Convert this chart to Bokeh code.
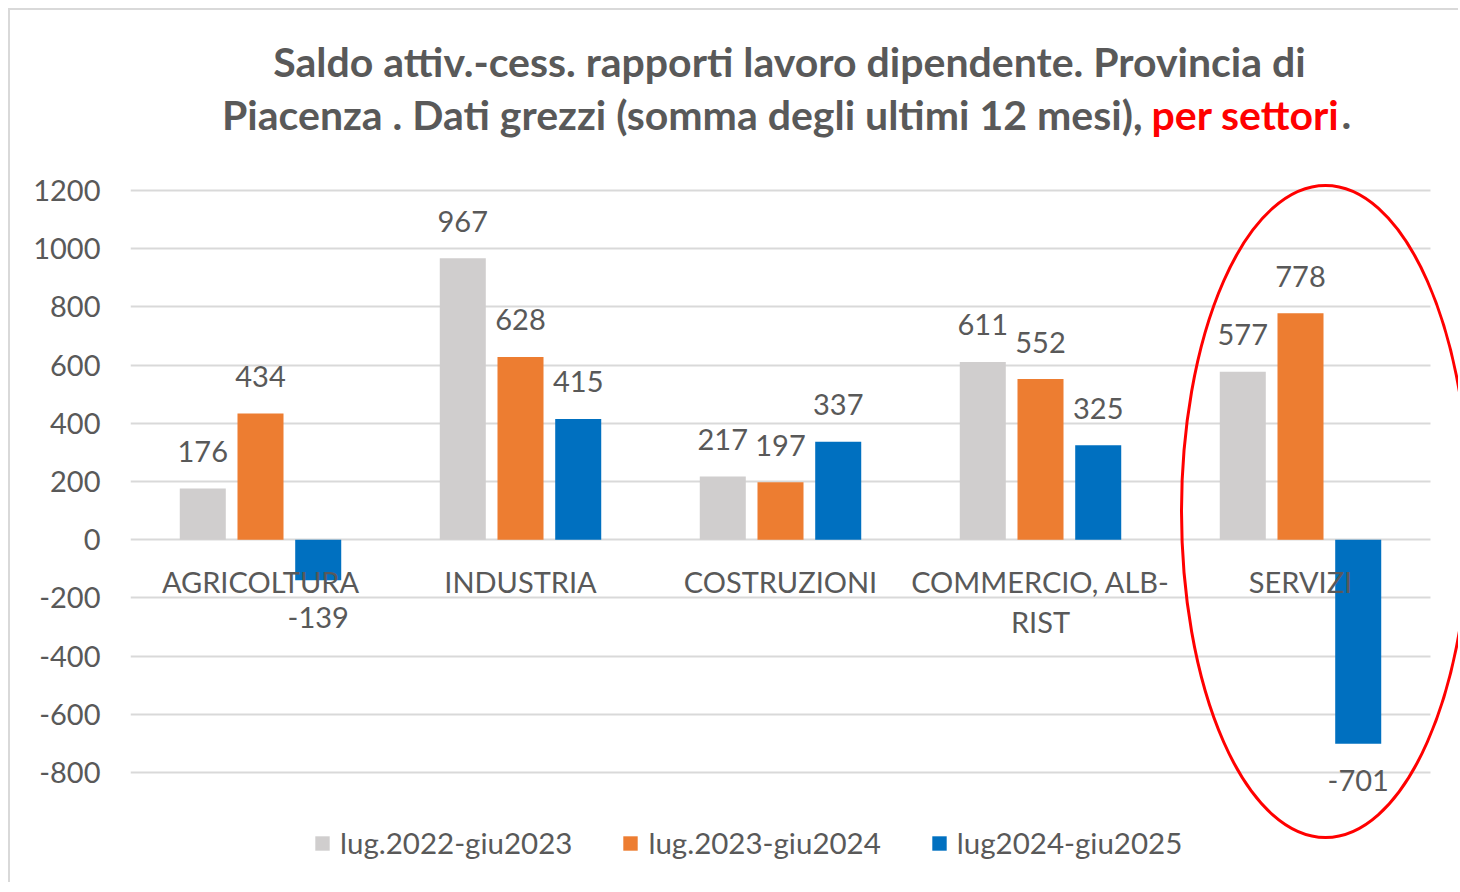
from bokeh.plotting import figure
from bokeh.models import (ColumnDataSource, Range1d, FixedTicker, Label, Legend,
                          LegendItem, BoxAnnotation)
from bokeh.embed import file_html
from bokeh.resources import INLINE
from bokeh.core.properties import value

# ---------------- data ----------------
categories = ["AGRICOLTURA", "INDUSTRIA", "COSTRUZIONI", "COMMERCIO, ALB-\nRIST", "SERVIZI"]
series_names = ["lug.2022-giu2023", "lug.2023-giu2024", "lug2024-giu2025"]
values_2022_2023 = [176, 967, 217, 611, 577]
values_2023_2024 = [434, 628, 197, 552, 778]
values_2024_2025 = [-139, 415, 337, 325, -701]
y_ticks = [-800, -600, -400, -200, 0, 200, 400, 600, 800, 1000, 1200]
title_line1 = "Saldo attiv.-cess. rapporti lavoro dipendente. Provincia di"
title_line2a = "Piacenza . Dati grezzi (somma degli ultimi 12 mesi),"
title_line2b = "per settori"
title_line2c = "."

# ---------------- style ----------------
FONT = "Lato"
TXT = "#595959"
GRID = "#d9d9d9"
colors = ["#d0cece", "#ed7d31", "#0070c0"]
offsets = [-0.222, 0.0, 0.222]
BAR_W = 0.177
NUM_SIZE = "29px"

# page-pixel helpers (layout only)
X0_PX, PX_PER_CAT = 130.0, 260.0
Y0_PX, PX_PER_UNIT = 539.2, 0.291
def px2x(px):
    return (px - X0_PX) / PX_PER_CAT - 0.5
def py2y(py):
    return (Y0_PX - py) / PX_PER_UNIT

W, H = 1450, 874
p = figure(width=W, height=H, output_backend="svg", toolbar_location=None,
           x_range=Range1d(px2x(130), px2x(1460)),
           y_range=Range1d(py2y(884), py2y(10)),
           x_axis_location=None,
           min_border_left=120, min_border_right=0, min_border_top=0, min_border_bottom=0)
p.styles = {"margin-left": "8px", "margin-top": "8px",
            "border-top": "2px solid #d9d9d9", "border-left": "2px solid #d9d9d9"}
p.outline_line_color = None
p.background_fill_color = "white"
p.border_fill_color = "white"

p.yaxis.ticker = FixedTicker(ticks=y_ticks)
p.yaxis.major_label_overrides = {t: str(t) for t in y_ticks}
p.yaxis.axis_line_color = None
p.yaxis.major_tick_line_color = None
p.yaxis.minor_tick_line_color = None
p.yaxis.major_tick_out = 0
p.yaxis.major_tick_in = 0
p.yaxis.major_label_standoff = 30
p.yaxis.major_label_text_font = FONT
p.yaxis.major_label_text_font_size = NUM_SIZE
p.yaxis.major_label_text_color = TXT

p.xgrid.visible = False
p.ygrid.ticker = FixedTicker(ticks=y_ticks)
p.ygrid.grid_line_color = GRID
p.ygrid.grid_line_width = 2

# hide gridlines right of the plot area (ellipse extends there)
p.add_layout(BoxAnnotation(left=4.5, fill_color="white", fill_alpha=1.0,
                           line_color=None, line_alpha=0))

# ---------------- bars ----------------
all_series = [values_2022_2023, values_2023_2024, values_2024_2025]
renderers = []
lx, ly, lt, loff = [], [], [], []
for s, vals in enumerate(all_series):
    xs = [i + offsets[s] for i in range(len(categories))]
    r = p.vbar(x=xs, top=vals, bottom=0, width=BAR_W, fill_color=colors[s], line_color=None)
    renderers.append(r)
    for xv, v in zip(xs, vals):
        lx.append(xv)
        ly.append(v)
        lt.append(str(v))
        loff.append(-37 if v >= 0 else 37)

lab_src = ColumnDataSource(dict(x=lx, y=ly, t=lt, off=loff))
p.text(x="x", y="y", text="t", y_offset="off", source=lab_src,
       text_align="center", text_baseline="middle",
       text_font=value(FONT), text_font_size=NUM_SIZE, text_color=TXT)

# category labels
p.text(x=list(range(len(categories))), y=[0] * len(categories), text=categories,
       y_offset=24, text_align="center", text_baseline="top", text_line_height=1.15,
       text_font=value(FONT), text_font_size=NUM_SIZE, text_color=TXT)

# red ellipse highlighting SERVIZI
p.ellipse(x=[px2x(1325)], y=[py2y(511)], width=[288 / PX_PER_CAT],
          height=[652 / PX_PER_UNIT], fill_color=None, line_color="#ff0000",
          line_width=3, level="overlay")

# ---------------- title ----------------
TSIZE = "41px"
p.add_layout(Label(x=px2x(789), y=py2y(61), text=title_line1, text_align="center",
                   text_baseline="middle", text_font=FONT, text_font_size=TSIZE,
                   text_font_style="bold", text_color=TXT))
p.add_layout(Label(x=px2x(1142), y=py2y(114), text=title_line2a, text_align="right",
                   text_baseline="middle", text_font=FONT, text_font_size=TSIZE,
                   text_font_style="bold", text_color=TXT))
p.add_layout(Label(x=px2x(1151), y=py2y(114), text=title_line2b, text_align="left",
                   text_baseline="middle", text_font=FONT, text_font_size=TSIZE,
                   text_font_style="bold", text_color="#ff0000"))
p.add_layout(Label(x=px2x(1341), y=py2y(114), text=title_line2c, text_align="left",
                   text_baseline="middle", text_font=FONT, text_font_size=TSIZE,
                   text_font_style="bold", text_color=TXT))

# ---------------- legend ----------------
legend = Legend(items=[LegendItem(label=n, renderers=[r]) for n, r in zip(series_names, renderers)],
                orientation="horizontal", location=(183, 24),
                glyph_width=18, glyph_height=18, label_standoff=9, spacing=49,
                padding=10, border_line_color=None, background_fill_alpha=0,
                label_text_font=FONT, label_text_font_size="29.5px", label_text_color=TXT)
p.add_layout(legend)

open("out.html", "w").write(file_html(p, INLINE))
